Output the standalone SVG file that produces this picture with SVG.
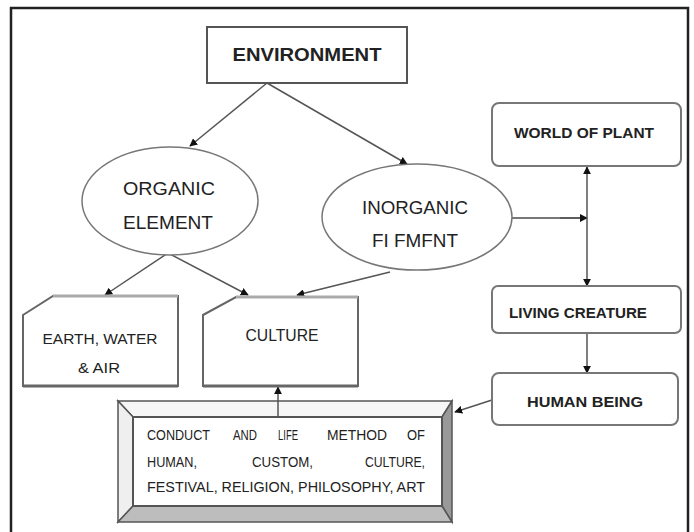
<svg xmlns="http://www.w3.org/2000/svg" width="694" height="532" viewBox="0 0 694 532">
<defs>
<marker id="ah" viewBox="0 0 10 10" refX="9" refY="5" markerWidth="8" markerHeight="8" markerUnits="userSpaceOnUse" orient="auto">
<path d="M0,0 L10,5 L0,10 z" fill="#111"/>
</marker>
<style>
.t{font-family:"Liberation Sans Narrow","Liberation Sans",Arial,sans-serif;fill:#222;text-anchor:middle}
.b{font-weight:bold}
.c{stroke:#555;stroke-width:1.5;fill:none;marker-end:url(#ah)}
.rr{fill:#fff;stroke:#777;stroke-width:2}
.el{fill:#fff;stroke:#777;stroke-width:1.5}
</style>
</defs>
<rect width="694" height="532" fill="#fff"/>
<path d="M11,540 L11,8 L688,8 L688,540" fill="none" stroke="#222" stroke-width="2.5"/>

<g id="connectors">
<line class="c" x1="267" y1="83" x2="190" y2="146"/>
<line class="c" x1="267" y1="83" x2="407" y2="164"/>
<line class="c" x1="168" y1="253" x2="105" y2="295"/>
<line class="c" x1="168" y1="253" x2="248" y2="295"/>
<line class="c" x1="390" y1="272" x2="297" y2="295"/>
<line x1="512" y1="218" x2="587" y2="218" stroke="#777" stroke-width="2"/>
<line class="c" x1="560" y1="218" x2="587" y2="218" stroke-width="1.5"/>
<line class="c" x1="587" y1="218" x2="587" y2="167"/>
<line class="c" x1="587" y1="218" x2="587" y2="286"/>
<line class="c" x1="587" y1="333" x2="587" y2="373"/>
<line class="c" x1="492" y1="400" x2="455" y2="412"/>
<line class="c" x1="278" y1="417" x2="278" y2="387"/>
</g>

<g id="environment">
<rect x="207" y="27" width="200" height="56" fill="#fff" stroke="#555" stroke-width="2"/>
<text class="t b" x="307" y="61" font-size="19" textLength="149" lengthAdjust="spacingAndGlyphs">ENVIRONMENT</text>
</g>

<g id="organic">
<ellipse class="el" cx="170" cy="201" rx="88" ry="54"/>
<text class="t" x="169" y="195" font-size="19" textLength="92" lengthAdjust="spacingAndGlyphs">ORGANIC</text>
<text class="t" x="168" y="229" font-size="19" textLength="90" lengthAdjust="spacingAndGlyphs">ELEMENT</text>
</g>

<g id="inorganic">
<ellipse class="el" cx="417" cy="217" rx="95" ry="53"/>
<text class="t" x="415" y="214" font-size="19" textLength="106" lengthAdjust="spacingAndGlyphs">INORGANIC</text>
<text class="t" x="415" y="247" font-size="19" textLength="86" lengthAdjust="spacingAndGlyphs">FI FMFNT</text>
</g>

<g id="world-of-plant">
<rect class="rr" x="492" y="103" width="189" height="63" rx="7"/>
<text class="t b" x="584" y="138" font-size="15" textLength="140" lengthAdjust="spacingAndGlyphs">WORLD OF PLANT</text>
</g>

<g id="living-creature">
<rect class="rr" x="492" y="286" width="189" height="47" rx="6"/>
<text class="t b" x="578" y="318" font-size="15" textLength="138" lengthAdjust="spacingAndGlyphs">LIVING CREATURE</text>
</g>

<g id="human-being">
<rect class="rr" x="492" y="373" width="186" height="52" rx="7"/>
<text class="t b" x="585" y="407" font-size="15" textLength="116" lengthAdjust="spacingAndGlyphs">HUMAN BEING</text>
</g>

<g id="earth-water-air">
<path d="M23,315 L53,296 L178,296 L178,386 L23,386 Z" fill="#fff" stroke="#666" stroke-width="2"/>
<line x1="53" y1="296" x2="178" y2="296" stroke="#aaa" stroke-width="3"/>
<line x1="23" y1="386" x2="178" y2="386" stroke="#666" stroke-width="3"/>
<text class="t" x="100" y="344" font-size="15" textLength="115" lengthAdjust="spacingAndGlyphs">EARTH, WATER</text>
<text class="t" x="99" y="373" font-size="15" textLength="42" lengthAdjust="spacingAndGlyphs">&amp; AIR</text>
</g>

<g id="culture">
<path d="M203,315 L236,297 L358,297 L358,386 L203,386 Z" fill="#fff" stroke="#666" stroke-width="2"/>
<line x1="236" y1="297" x2="358" y2="297" stroke="#aaa" stroke-width="3"/>
<line x1="203" y1="386" x2="358" y2="386" stroke="#666" stroke-width="3"/>
<text class="t" x="282" y="341" font-size="16" textLength="73" lengthAdjust="spacingAndGlyphs">CULTURE</text>
</g>

<g id="conduct">
<polygon points="118,401 452,401 442,417 133,417" fill="#f6f6f6" stroke="#555" stroke-width="1.5"/>
<polygon points="118,401 133,417 133,506 118,522" fill="#efefef" stroke="#555" stroke-width="1.5"/>
<polygon points="452,401 452,522 442,506 442,417" fill="#999" stroke="#555" stroke-width="1.5"/>
<polygon points="118,522 452,522 442,506 133,506" fill="#bdbdbd" stroke="#555" stroke-width="1.5"/>
<rect x="133" y="417" width="309" height="89" fill="#fff" stroke="#555" stroke-width="2"/>
<line x1="278" y1="401" x2="278" y2="417" stroke="#555" stroke-width="1.5"/>
<g class="t" font-size="14" style="text-anchor:start">
<text x="147" y="440" textLength="63" lengthAdjust="spacingAndGlyphs">CONDUCT</text>
<text x="233" y="440" textLength="24" lengthAdjust="spacingAndGlyphs">AND</text>
<text x="278" y="440" textLength="20" lengthAdjust="spacingAndGlyphs">LIFE</text>
<text x="327" y="440" textLength="60" lengthAdjust="spacingAndGlyphs">METHOD</text>
<text x="407" y="440" textLength="18" lengthAdjust="spacingAndGlyphs">OF</text>
<text x="147" y="467" textLength="50" lengthAdjust="spacingAndGlyphs">HUMAN,</text>
<text x="252" y="467" textLength="61" lengthAdjust="spacingAndGlyphs">CUSTOM,</text>
<text x="365" y="467" textLength="60" lengthAdjust="spacingAndGlyphs">CULTURE,</text>
<text x="147" y="492" textLength="278" lengthAdjust="spacingAndGlyphs">FESTIVAL, RELIGION, PHILOSOPHY, ART</text>
</g>
</g>
</svg>
